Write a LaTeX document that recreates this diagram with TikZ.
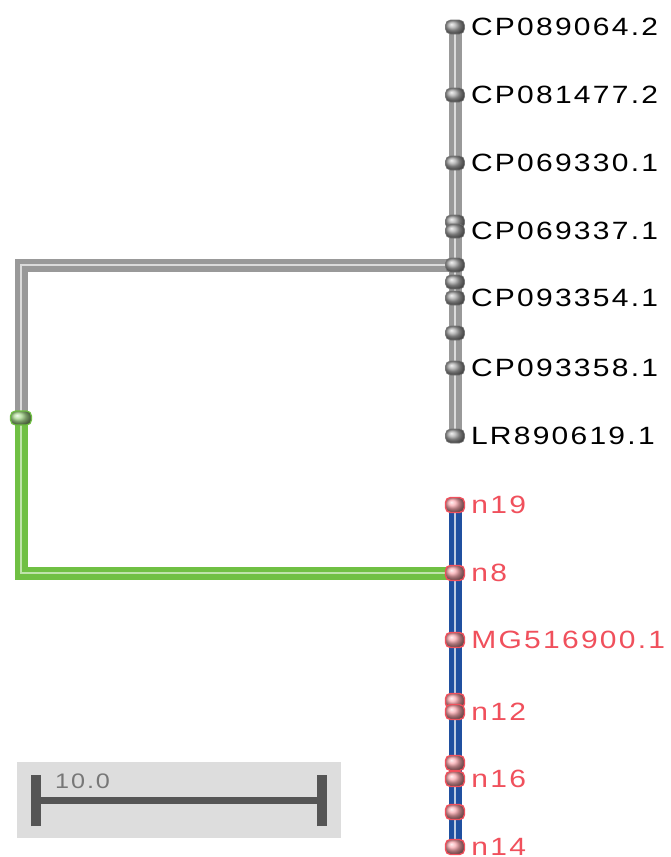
\documentclass[tikz,border=0pt]{standalone}
\usepackage{fontspec}
\newfontfamily\treefont[FakeStretch=1.2,LetterSpace=9]{Liberation Sans}
\usetikzlibrary{positioning,backgrounds}

\definecolor{treegray}{RGB}{153,153,153}
\definecolor{treeblue}{RGB}{32,80,160}
\definecolor{treegreen}{RGB}{112,192,68}
\definecolor{treered}{RGB}{240,80,92}
\definecolor{barbg}{RGB}{221,221,221}
\definecolor{bardark}{RGB}{85,85,85}

\tikzset{
  tip/.style={rectangle, rounded corners=5pt, minimum width=19pt, minimum height=14pt,
    inner sep=0pt, draw=#1!70!black, line width=0.6pt, ball color=#1},
  redtip/.style={rectangle, rounded corners=5pt, minimum width=19pt, minimum height=15pt,
    inner sep=0pt, draw=treered, line width=1.4pt, ball color=treered!50!white},
  tiplabel/.style={inner sep=0pt, font={\treefont\fontsize{25}{25}\selectfont}},
  branch/.style 2 args={line width=13pt, draw=#1, line join=miter,
    postaction={draw=#2, line width=2.5pt}},
}

\begin{document}
\begin{tikzpicture}[x=1pt,y=-1pt]
    \useasboundingbox (0,0) rectangle (670,857);

    % upper clade
    \node[tip=treegray!85!white] (g1) at (455,27) {};
    \node[tip=treegray!85!white] (g2) at (455,95) {};
    \node[tip=treegray!85!white] (g3) at (455,163) {};
    \node[tip=treegray!85!white] (g4a) at (455,222) {};
    \node[tip=treegray!85!white] (g4) at (455,231) {};
    \node[tip=treegray!85!white] (gi1) at (455,265) {};
    \node[tip=treegray!85!white] (gi2) at (455,282) {};
    \node[tip=treegray!85!white] (g5) at (455,298) {};
    \node[tip=treegray!85!white] (gi3) at (455,333) {};
    \node[tip=treegray!85!white] (g6) at (455,368) {};
    \node[tip=treegray!85!white] (g7) at (455,436) {};

    \node[tiplabel, right=6pt of g1] (lg1) {CP089064.2};
    \node[tiplabel, right=6pt of g2] (lg2) {CP081477.2};
    \node[tiplabel, right=6pt of g3] (lg3) {CP069330.1};
    \node[tiplabel, right=6pt of g4] (lg4) {CP069337.1};
    \node[tiplabel, right=6pt of g5] (lg5) {CP093354.1};
    \node[tiplabel, right=6pt of g6] (lg6) {CP093358.1};
    \node[tiplabel, right=6pt of g7] (lg7) {LR890619.1};

    % lower clade
    \node[redtip] (r1) at (455,505) {};
    \node[redtip] (r2) at (455,573) {};
    \node[redtip] (r3) at (455,640) {};
    \node[redtip] (r4a) at (455,701) {};
    \node[redtip] (r4) at (455,712) {};
    \node[redtip] (r5a) at (455,763) {};
    \node[redtip] (r5) at (455,779) {};
    \node[redtip] (r6) at (455,812) {};
    \node[redtip] (r7) at (455,847) {};

    \node[tiplabel, text=treered, right=6pt of r1] (lr1) {n19};
    \node[tiplabel, text=treered, right=6pt of r2] (lr2) {n8};
    \node[tiplabel, text=treered, right=6pt of r3] (lr3) {MG516900.1};
    \node[tiplabel, text=treered, right=6pt of r4] (lr4) {n12};
    \node[tiplabel, text=treered, right=6pt of r5] (lr5) {n16};
    \node[tiplabel, text=treered, right=6pt of r7] (lr7) {n14};

    % root
    \node[tip=treegreen!60!white, draw=treegreen, line width=1.2pt,
          minimum width=21pt, minimum height=14pt] (root) at (21,418) {};

    \begin{scope}[on background layer]
        \draw[branch={treegray}{white!65!treegray}] (root.center) |- (gi1.center);
        \draw[branch={treegreen}{white!55!treegreen}] (root.center) |- (r2.center);
        \draw[branch={treegray}{white!65!treegray}] (g1.center) -- (g7.center);
        \draw[branch={treeblue}{white!70!treeblue}] (r1.center) -- (r7.center);
    \end{scope}

    % scale bar
    \fill[barbg] (17,762) rectangle (341,838);
    \coordinate (s1) at (36,800.5);
    \coordinate (s2) at (322,800.5);
    \draw[bardark, line width=7pt] (s1) -- (s2);
    \draw[bardark, line width=10pt] ([yshift=-25.5pt]s1) -- ([yshift=25.5pt]s1);
    \draw[bardark, line width=10pt] ([yshift=-25.5pt]s2) -- ([yshift=25.5pt]s2);
    \node[inner sep=0pt, anchor=west, text=bardark!80!white,
          font={\treefont\fontsize{21}{21}\selectfont}] (scalelab) at (55,781) {10.0};
\end{tikzpicture}
\end{document}
